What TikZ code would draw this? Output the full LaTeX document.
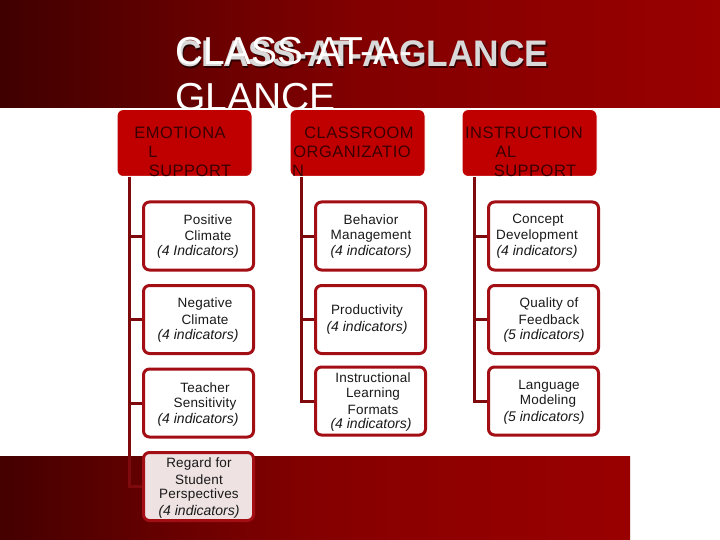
\documentclass[tikz,border=0pt]{standalone}
\usepackage{fontspec}
\setmainfont{Liberation Sans}
\definecolor{bdr}{HTML}{A30D14}
\definecolor{spinec}{HTML}{7E0A0E}
\definecolor{hdrfill}{HTML}{C00000}
\definecolor{hdrtext}{HTML}{3A0000}
\definecolor{softfill}{HTML}{EEE2E2}
\pgfdeclarehorizontalshading{topband}{100bp}{rgb(0bp)=(0.25,0,0);rgb(25bp)=(0.25,0,0);rgb(40bp)=(0.42,0,0);rgb(50bp)=(0.51,0,0);rgb(60bp)=(0.55,0,0);rgb(75bp)=(0.60,0,0);rgb(100bp)=(0.60,0,0)}
\pgfdeclarehorizontalshading{lowband}{100bp}{rgb(0bp)=(0.27,0,0);rgb(25bp)=(0.27,0,0);rgb(35bp)=(0.37,0,0);rgb(50bp)=(0.52,0,0);rgb(60bp)=(0.56,0,0);rgb(75bp)=(0.60,0,0);rgb(100bp)=(0.60,0,0)}
\tikzset{
  x=1pt,y=-1pt,
  hdrbox/.style={draw=white,line width=1pt,fill=hdrfill,rounded corners=6pt,minimum width=135pt,minimum height=67pt,inner sep=0pt},
  itembox/.style={draw=bdr,line width=3pt,fill=white,rounded corners=6pt,minimum width=110pt,minimum height=68pt,inner sep=0pt},
  softbox/.style={itembox,fill=softfill},
  spineline/.style={draw=spinec,line width=3pt,line cap=butt},
  hl/.style={inner sep=0pt,text=hdrtext,font=\fontsize{16.5}{17}\selectfont\addfontfeature{LetterSpace=3}},
  il/.style={inner sep=0pt,text=black!90,yshift=-0.1pt,font=\fontsize{13.5}{15}\selectfont\addfontfeature{LetterSpace=1.5}},
  ii/.style={inner sep=0pt,text=black!90,yshift=-1pt,font=\fontsize{14}{15}\selectfont\itshape},
  titlethin/.style={inner sep=0pt,anchor=base west,text=white,font=\fontsize{39}{40}\selectfont},
  titlebold/.style={inner sep=0pt,anchor=base west,font=\fontsize{37}{38}\selectfont\bfseries\addfontfeature{FakeStretch=0.955}},
}
\begin{document}
\begin{tikzpicture}
\useasboundingbox (0,0) rectangle (720,540);
\fill[white] (0,0) rectangle (720,540);
% bands
\shade[shading=topband] (0,0) rectangle (720,108);
\shade[shading=lowband] (0,456) rectangle (630,540);
% title
\node[titlebold,text=black,opacity=.6] (tshadow) at (177.2,68.2) {CLASS-AT-A-GLANCE};
\node[titlebold,text=black!15] (tbold) at (176,67) {CLASS-AT-A-GLANCE};
\node[titlethin] (t1) at (175,65) {CLASS-AT-A-};
\begin{scope}
\clip (0,0) rectangle (720,108);
\node[titlethin] (t2) at (175,111) {GLANCE};
\end{scope}
% spines
\coordinate (s1) at (129,177);
\coordinate (s2) at (301,177);
\coordinate (s3) at (474,177);
% boxes
\node[hdrbox] (h1) at (184.5,143) {};
\node[hdrbox] (h2) at (357.5,143) {};
\node[hdrbox] (h3) at (529.5,143) {};
\node[itembox] (a1) at (198.5,236) {};
\node[itembox] (a2) at (198.5,319.5) {};
\node[itembox] (a3) at (198.5,403) {};
\node[softbox] (a4) at (198.5,486.5) {};
\node[itembox] (b1) at (370.5,236) {};
\node[itembox] (b2) at (370.5,319.5) {};
\node[itembox] (b3) at (370.5,401) {};
\node[itembox] (c1) at (543.5,236) {};
\node[itembox] (c2) at (543.5,319.5) {};
\node[itembox] (c3) at (543.5,401) {};
% connectors
\draw[spineline] (s1) |- (a1.west);
\draw[spineline] (s1) |- (a2.west);
\draw[spineline] (s1) |- (a3.west);
\draw[spineline] (s1) |- (a4.west);
\draw[spineline] (s2) |- (b1.west);
\draw[spineline] (s2) |- (b2.west);
\draw[spineline] (s2) |- (b3.west);
\draw[spineline] (s3) |- (c1.west);
\draw[spineline] (s3) |- (c2.west);
\draw[spineline] (s3) |- (c3.west);
% header text
\node[hl] (h1a) at (180,133) {EMOTIONA};
\node[hl] (h1b) at (153,152) {L};
\node[hl] (h1c) at (190,171) {SUPPORT};
\node[hl] (h2a) at (359,133) {CLASSROOM};
\node[hl] (h2b) at (352,152) {ORGANIZATIO};
\node[hl] (h2c) at (298,171) {N};
\node[hl] (h3a) at (524,133) {INSTRUCTION};
\node[hl] (h3b) at (506,152) {AL};
\node[hl] (h3c) at (535,171) {SUPPORT};
% col 1
\node[il] (a1a) at (208,220) {Positive};
\node[il] (a1b) at (208,236) {Climate};
\node[ii] (a1c) at (198,251) {(4 Indicators)};
\node[il] (a2a) at (205,304) {Negative};
\node[il] (a2b) at (205,320) {Climate};
\node[ii] (a2c) at (198,335) {(4 indicators)};
\node[il] (a3a) at (205,388) {Teacher};
\node[il] (a3b) at (205,404) {Sensitivity};
\node[ii] (a3c) at (198,419) {(4 indicators)};
\node[il] (a4a) at (199,464) {Regard for};
\node[il] (a4b) at (199,480) {Student};
\node[il] (a4c) at (199,495) {Perspectives};
\node[ii] (a4d) at (199,511) {(4 indicators)};
% col 2
\node[il] (b1a) at (371,220) {Behavior};
\node[il] (b1b) at (371,236) {Management};
\node[ii] (b1c) at (371,251) {(4 indicators)};
\node[il] (b2a) at (367,311) {Productivity};
\node[ii] (b2b) at (367,327) {(4 indicators)};
\node[il] (b3a) at (373,378) {Instructional};
\node[il] (b3b) at (373,394) {Learning};
\node[il] (b3c) at (373,410) {Formats};
\node[ii] (b3d) at (371,424) {(4 indicators)};
% col 3
\node[il] (c1a) at (538,220) {Concept};
\node[il] (c1b) at (537,236) {Development};
\node[ii] (c1c) at (537,251) {(4 indicators)};
\node[il] (c2a) at (549,304) {Quality of};
\node[il] (c2b) at (549,320) {Feedback};
\node[ii] (c2c) at (544,335) {(5 indicators)};
\node[il] (c3a) at (549,386) {Language};
\node[il] (c3b) at (548,401) {Modeling};
\node[ii] (c3c) at (544,417) {(5 indicators)};
\end{tikzpicture}
\end{document}
